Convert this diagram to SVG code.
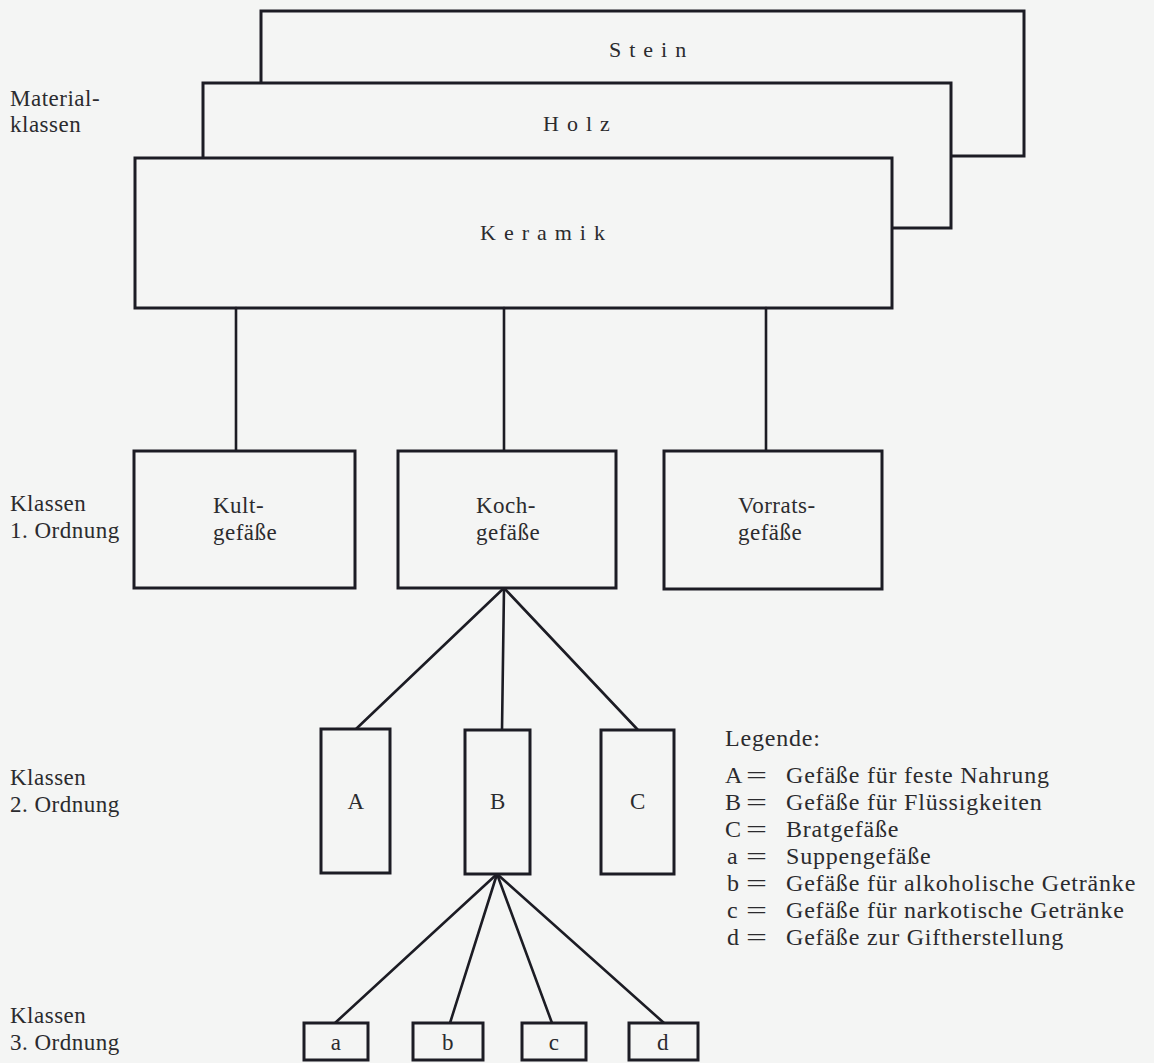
<svg xmlns="http://www.w3.org/2000/svg" width="1154" height="1063" viewBox="0 0 1154 1063" font-family="'Liberation Serif', 'Times New Roman', serif">
<style>
.bg{fill:#f4f5f4}
.box{fill:#f4f5f4;stroke:#1c1c24;stroke-width:3}
.con line{stroke:#1c1c24;stroke-width:2.6;stroke-linecap:round}
text{font-family:'Liberation Serif','Times New Roman',serif;fill:#2b2b2e}
.mat{font-size:22px;letter-spacing:8px}
.lbl{font-size:23px;letter-spacing:0.5px}
.leg{font-size:24px;letter-spacing:0.8px}
.eq{font-size:24px}
.mid{text-anchor:middle}
</style>
<rect class="bg" x="0" y="0" width="1154" height="1063"/>
<g id="labels">
<text class="lbl" x="10" y="106">Material-</text>
<text class="lbl" x="10" y="132">klassen</text>
<text class="lbl" x="10" y="511">Klassen</text>
<text class="lbl" x="10" y="538">1. Ordnung</text>
<text class="lbl" x="10" y="785">Klassen</text>
<text class="lbl" x="10" y="812">2. Ordnung</text>
<text class="lbl" x="10" y="1023">Klassen</text>
<text class="lbl" x="10" y="1050">3. Ordnung</text>
</g>
<g id="stein"><rect class="box" x="261" y="11" width="763" height="145"/><text class="mat" x="609" y="57">Stein</text></g>
<g id="holz"><rect class="box" x="203" y="83" width="748" height="145"/><text class="mat" x="543" y="131">Holz</text></g>
<g id="keramik"><rect class="box" x="135" y="158" width="757" height="150"/><text class="mat" x="480" y="240">Keramik</text></g>
<g class="con" id="connectors">
<line x1="236" y1="308" x2="236" y2="451"/>
<line x1="504" y1="308" x2="504" y2="451"/>
<line x1="766" y1="308" x2="766" y2="451"/>
<line x1="504" y1="588" x2="356" y2="729"/>
<line x1="504" y1="588" x2="502" y2="730"/>
<line x1="504" y1="588" x2="638" y2="730"/>
<line x1="497" y1="874" x2="335" y2="1023"/>
<line x1="497" y1="874" x2="450" y2="1023"/>
<line x1="497" y1="874" x2="552" y2="1023"/>
<line x1="497" y1="874" x2="664" y2="1023"/>
</g>
<g id="kult"><rect class="box" x="134" y="451" width="221" height="137"/><text class="lbl" x="213" y="513">Kult-</text><text class="lbl" x="213" y="540">gefäße</text></g>
<g id="koch"><rect class="box" x="398" y="451" width="218" height="137"/><text class="lbl" x="476" y="513">Koch-</text><text class="lbl" x="476" y="540">gefäße</text></g>
<g id="vorrats"><rect class="box" x="664" y="451" width="218" height="138"/><text class="lbl" x="738" y="513">Vorrats-</text><text class="lbl" x="738" y="540">gefäße</text></g>
<g id="A"><rect class="box" x="321" y="729" width="69" height="144"/><text class="lbl mid" x="356" y="809">A</text></g>
<g id="B"><rect class="box" x="465" y="730" width="65" height="144"/><text class="lbl mid" x="498" y="809">B</text></g>
<g id="C"><rect class="box" x="601" y="730" width="73" height="144"/><text class="lbl mid" x="638" y="809">C</text></g>
<g id="a"><rect class="box" x="304" y="1023" width="64" height="37"/><text class="lbl mid" x="336" y="1050">a</text></g>
<g id="b"><rect class="box" x="413" y="1023" width="70" height="37"/><text class="lbl mid" x="448" y="1050">b</text></g>
<g id="c"><rect class="box" x="522" y="1023" width="64" height="37"/><text class="lbl mid" x="554" y="1050">c</text></g>
<g id="d"><rect class="box" x="629" y="1023" width="69" height="37"/><text class="lbl mid" x="663" y="1050">d</text></g>
<g id="legend">
<text class="leg" x="725" y="746">Legende:</text>
<text class="leg" x="725" y="783">A</text><text class="eq" x="746" y="783" textLength="21" lengthAdjust="spacingAndGlyphs">=</text><text class="leg" x="786" y="783">Gefäße für feste Nahrung</text>
<text class="leg" x="725" y="810">B</text><text class="eq" x="746" y="810" textLength="21" lengthAdjust="spacingAndGlyphs">=</text><text class="leg" x="786" y="810">Gefäße für Flüssigkeiten</text>
<text class="leg" x="725" y="837">C</text><text class="eq" x="746" y="837" textLength="21" lengthAdjust="spacingAndGlyphs">=</text><text class="leg" x="786" y="837">Bratgefäße</text>
<text class="leg" x="727" y="864">a</text><text class="eq" x="746" y="864" textLength="21" lengthAdjust="spacingAndGlyphs">=</text><text class="leg" x="786" y="864">Suppengefäße</text>
<text class="leg" x="727" y="891">b</text><text class="eq" x="746" y="891" textLength="21" lengthAdjust="spacingAndGlyphs">=</text><text class="leg" x="786" y="891">Gefäße für alkoholische Getränke</text>
<text class="leg" x="727" y="918">c</text><text class="eq" x="746" y="918" textLength="21" lengthAdjust="spacingAndGlyphs">=</text><text class="leg" x="786" y="918">Gefäße für narkotische Getränke</text>
<text class="leg" x="727" y="945">d</text><text class="eq" x="746" y="945" textLength="21" lengthAdjust="spacingAndGlyphs">=</text><text class="leg" x="786" y="945">Gefäße zur Giftherstellung</text>
</g>
</svg>
